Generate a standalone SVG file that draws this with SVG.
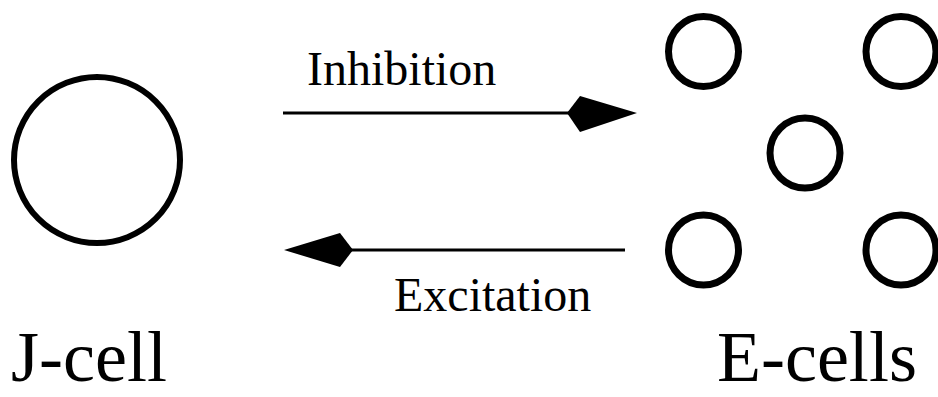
<svg xmlns="http://www.w3.org/2000/svg" width="938" height="397" viewBox="0 0 938 397">
<style>
.cell{fill:none;stroke:#000;stroke-width:6}
.small{stroke-width:7}
.conn{stroke:#000;stroke-width:3;fill:none}
.head{fill:#000;stroke:none}
text{font-family:'Liberation Serif',serif;fill:#000}
</style>
<rect width="938" height="397" fill="#fff"/>
<g id="j-cell">
<circle class="cell" cx="97" cy="160" r="83"/>
<text x="11" y="381" font-size="72">J-cell</text>
</g>
<g id="e-cells">
<circle class="cell small" cx="703.5" cy="51.5" r="35"/>
<circle class="cell small" cx="901" cy="51.5" r="35"/>
<circle class="cell small" cx="805" cy="153" r="35"/>
<circle class="cell small" cx="703.5" cy="250" r="35"/>
<circle class="cell small" cx="901" cy="250" r="35"/>
<text x="717" y="381" font-size="72">E-cells</text>
</g>
<g id="connectors">
<line class="conn" x1="283" y1="113" x2="570" y2="113"/>
<polygon class="head" points="567,113 580,96 637,113 580,132"/>
<text x="307" y="85" font-size="48">Inhibition</text>
<line class="conn" x1="350" y1="250" x2="625" y2="250"/>
<polygon class="head" points="353,250 340,233 284,250 340,267"/>
<text x="394" y="311" font-size="48">Excitation</text>
</g>
</svg>
